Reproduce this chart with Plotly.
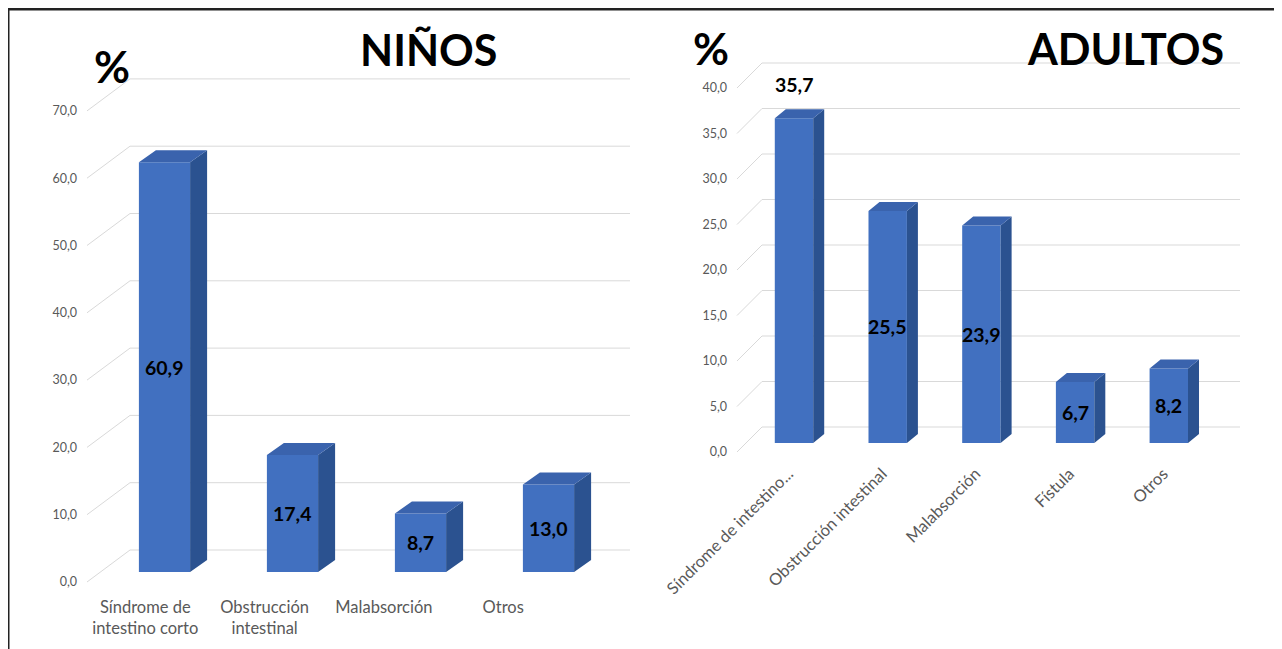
import plotly.graph_objects as go

# ---------------- data ----------------
ninos_cats = ["Síndrome de<br>intestino corto", "Obstrucción<br>intestinal", "Malabsorción", "Otros"]
ninos_vals = [60.9, 17.4, 8.7, 13.0]
ninos_ticks = [0, 10, 20, 30, 40, 50, 60, 70]

adultos_cats = ["Síndrome de intestino...", "Obstrucción intestinal", "Malabsorción", "Fístula", "Otros"]
adultos_vals = [35.7, 25.5, 23.9, 6.7, 8.2]
adultos_ticks = [0, 5, 10, 15, 20, 25, 30, 35, 40]

# ---------------- style / geometry ----------------
W, H = 1282, 649
OFF = 8  # page body margin of the viewer
FRONT = "#4170C0"
SIDE = "#2B5290"
TOP = "#3A63AD"
GRID = "#D9D9D9"
TXT = "#595959"
FONT = "Lato"


def px(xp):
    return (xp - OFF) / W


def py(yp):
    return 1 - (yp - OFF) / H


panels = [
    dict(name="NIÑOS", cats=ninos_cats, vals=ninos_vals, ticks=ninos_ticks,
         xa="x", ya="y", cat0=164.5, pcat=128.0, zero=572.0, punit=6.73,
         dom=(78, 640, 60, 590), barw=0.4, depth=(17, 12), back=22, wall=130,
         diag0=87, lab_off=10, gend=630, tick_slope=0.932, tick_off=-0.15,
         tickangle=0, xfont=16.5, xstand=5, above=[False, False, False, False],
         title_px=(428, 49), pct_px=(112, 66)),
    dict(name="ADULTOS", cats=adultos_cats, vals=adultos_vals, ticks=adultos_ticks,
         xa="x2", ya="y2", cat0=794.0, pcat=93.7, zero=443.0, punit=9.1,
         dom=(728, 1250, 50, 455), barw=0.41, depth=(11, 9), back=16, wall=762,
         diag0=737, lab_off=9, gend=1240, tick_slope=1.0, tick_off=-0.06,
         tickangle=-45, xfont=16.5, xstand=5, above=[True, False, False, False, False],
         title_px=(1125, 48), pct_px=(711, 48)),
]

fig = go.Figure()
annotations = []
shapes = []
layout_axes = {}

for p in panels:
    L, R, T, B = p["dom"]
    xr = [(L - p["cat0"]) / p["pcat"], (R - p["cat0"]) / p["pcat"]]
    yr = [(p["zero"] - B) / p["punit"], (p["zero"] - T) / p["punit"]]
    n = len(p["vals"])
    xs = list(range(n))
    ddx = p["depth"][0] / p["pcat"]
    ddy = p["depth"][1] / p["punit"]
    back = p["back"] / p["punit"]
    wall = (p["wall"] - p["cat0"]) / p["pcat"]
    d0 = (p["diag0"] - p["cat0"]) / p["pcat"]
    loff = p["lab_off"] / p["punit"]
    gend = (p["gend"] - p["cat0"]) / p["pcat"]

    # gridlines on back wall + diagonal side-wall lines (drawn below the bars)
    for t in p["ticks"]:
        shapes.append(dict(type="path", xref=p["xa"], yref=p["ya"], layer="below",
                           path=f"M {d0},{t - loff} L {wall},{t + back} L {gend},{t + back}",
                           line=dict(color=GRID, width=1)))

    # front faces
    fig.add_trace(go.Bar(x=xs, y=p["vals"], width=p["barw"], marker=dict(color=FRONT, line=dict(width=0)),
                         showlegend=False, xaxis=p["xa"], yaxis=p["ya"], hoverinfo="skip"))

    # side and top faces
    sx, sy, tx, ty = [], [], [], []
    hw = p["barw"] / 2
    for x, v in zip(xs, p["vals"]):
        sx += [x + hw, x + hw + ddx, x + hw + ddx, x + hw, x + hw, None]
        sy += [0, ddy, v + ddy, v, 0, None]
        tx += [x - hw, x + hw, x + hw + ddx, x - hw + ddx, x - hw, None]
        ty += [v, v, v + ddy, v + ddy, v, None]
    fig.add_trace(go.Scatter(x=sx, y=sy, mode="lines", fill="toself", fillcolor=SIDE,
                             line=dict(width=0, color=SIDE), hoverinfo="skip", showlegend=False,
                             xaxis=p["xa"], yaxis=p["ya"]))
    fig.add_trace(go.Scatter(x=tx, y=ty, mode="lines", fill="toself", fillcolor=TOP,
                             line=dict(width=0, color=TOP), hoverinfo="skip", showlegend=False,
                             xaxis=p["xa"], yaxis=p["ya"]))

    # data labels
    for x, v, ab in zip(xs, p["vals"], p["above"]):
        annotations.append(dict(x=x, y=(v if ab else v / 2), xref=p["xa"], yref=p["ya"],
                                text=f"{v:.1f}".replace(".", ","), showarrow=False,
                                yshift=(34 if ab else 0),
                                font=dict(family=FONT, size=19.5, color="#000000", weight="bold")))

    # titles
    annotations.append(dict(x=px(p["title_px"][0]), y=py(p["title_px"][1]), xref="paper", yref="paper",
                            text=p["name"], showarrow=False, xanchor="center", yanchor="middle",
                            font=dict(family=FONT, size=43, color="#000000", weight="bold")))
    annotations.append(dict(x=px(p["pct_px"][0]), y=py(p["pct_px"][1]), xref="paper", yref="paper",
                            text="%", showarrow=False, xanchor="center", yanchor="middle",
                            font=dict(family=FONT, size=44, color="#000000", weight="bold")))

    xkey = "xaxis" if p["xa"] == "x" else "xaxis2"
    ykey = "yaxis" if p["ya"] == "y" else "yaxis2"
    layout_axes[xkey] = dict(domain=[px(L), px(R)], range=xr, anchor=p["ya"], automargin=False,
                             tickvals=[p["tick_off"] + p["tick_slope"] * i for i in xs],
                             ticktext=p["cats"], tickangle=p["tickangle"], ticklabelstandoff=p["xstand"],
                             showgrid=False, zeroline=False, showline=False, ticks="",
                             tickfont=dict(family=FONT, size=p["xfont"], color=TXT), fixedrange=True)
    layout_axes[ykey] = dict(domain=[py(B), py(T)], range=yr, anchor=p["xa"], automargin=False,
                             tickvals=p["ticks"], tickformat=".1f", ticklabelshift=p["lab_off"],
                             showgrid=False, zeroline=False, showline=False, ticks="",
                             tickfont=dict(family=FONT, size=12.5, color=TXT), fixedrange=True)

# frame lines
shapes += [
    dict(type="line", xref="paper", yref="paper", x0=px(8), x1=1, y0=py(9), y1=py(9),
         line=dict(color="#222222", width=3)),
    dict(type="line", xref="paper", yref="paper", x0=px(8), x1=px(8), y0=0, y1=py(9),
         line=dict(color="#222222", width=3)),
]

fig.update_layout(width=W, height=H, margin=dict(l=0, r=0, t=0, b=0),
                  paper_bgcolor="white", plot_bgcolor="white", separators=",.",
                  annotations=annotations, shapes=shapes, barmode="overlay",
                  **layout_axes)

fig.write_html("out.html")
